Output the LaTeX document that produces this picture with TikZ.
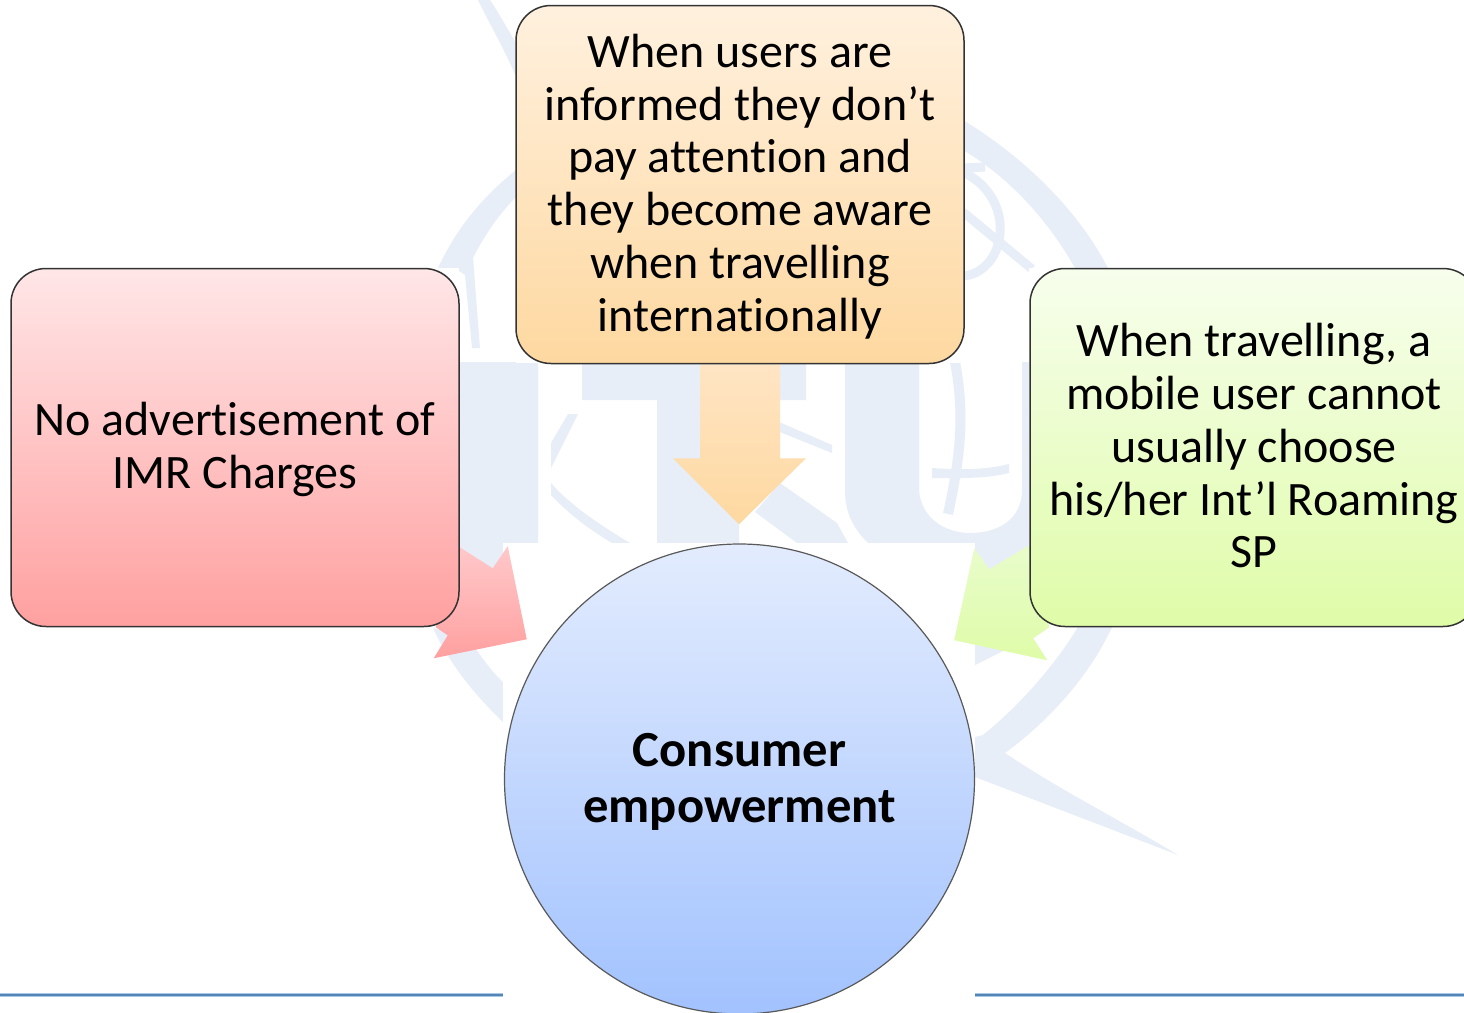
\documentclass[tikz,border=0pt]{standalone}
\usepackage{fontspec}
\setmainfont[Ligatures=CommonOff]{Carlito}
\definecolor{wm}{HTML}{E8EEF8}
\definecolor{rulecol}{HTML}{5585B5}
\definecolor{rulehalo}{HTML}{A8C8E8}
\newcommand\firststrut{\rule{0pt}{19.8pt}}
\newcommand\laststrut{\rule[-5pt]{0pt}{5pt}}
\newcommand\hubfirst{\rule{0pt}{20.5pt}}
\pgfdeclarelayer{wmlayer}
\pgfdeclarelayer{patchlayer}
\pgfdeclarelayer{arrowlayer}
\pgfsetlayers{wmlayer,patchlayer,arrowlayer,main}
\tikzset{
  wmfill/.style={fill=wm,draw=none},
  wmline/.style={draw=wm,line width=4.5pt},
  patchfill/.style={fill=white,draw=none},
  card/.style={draw=black!80,line width=.75pt,rounded corners=17.5pt,inner sep=0pt,
    minimum width=224pt,minimum height=179pt,align=center,
    font=\fontsize{24pt}{26.35pt}\selectfont},
  hub/.style={circle,draw=black!65,line width=.6pt,inner sep=0pt,minimum size=235pt,
    top color=hubtop,bottom color=hubbot,align=center,
    font=\fontsize{25.3pt}{27.6pt}\selectfont\bfseries},
  pinkarrow/.style={top color=pinktop,bottom color=pinkbot,draw=none},
  orangearrow/.style={top color=orangetop,bottom color=orangebot,draw=none},
  greenarrow/.style={top color=greentop,bottom color=greenbot,draw=none}
}
\definecolor{hubtop}{HTML}{E3ECFE}
\definecolor{hubbot}{HTML}{A2C2FE}
\definecolor{pinktop}{HTML}{FFC8CA}
\definecolor{pinkbot}{HTML}{FFA0A0}
\definecolor{orangetop}{HTML}{FFE5C4}
\definecolor{orangebot}{HTML}{FED8A0}
\definecolor{greentop}{HTML}{E8FCCB}
\definecolor{greenbot}{HTML}{DFFCA8}
\begin{document}
\begin{tikzpicture}[x=0.5pt,y=-0.5pt]
\useasboundingbox (0,0) rectangle (1464,1013);
\clip (0,0) rectangle (1464,1013);

\begin{pgfonlayer}{wmlayer}
  \fill[white] (0,0) rectangle (1464,1013);
  % I
  \fill[wmfill] (459,362) -- (538,362) -- (538,543) -- (503,543) -- (503,578) -- (459,578) -- cycle;
  % T
  \fill[wmfill] (582,362) -- (806,362) -- (806,400) -- (739,400) -- (739,543) -- (657,543) -- (657,400) -- (582,400) -- cycle;
  % U
  \fill[wmfill] (845,362) -- (919,362) -- (919,490) .. controls (921,518) and (945,533) .. (970,533)
     .. controls (1000,533) and (1022,518) .. (1022,490) -- (1022,362) -- (1030,362) -- (1030,580)
     -- (975,580) -- (975,543) -- (868,543) .. controls (855,530) and (845,515) .. (845,490) -- cycle;
  % bands through the letters
  \fill[wmfill] (780,483) -- (837,523) -- (848,543) -- (797,543) -- (755,512) -- cycle;
  \fill[wmfill] (770,418) -- (832,445) -- (832,453) -- (770,428) -- cycle;
  \fill[wmfill] (568,414) -- (578,414) -- (551,468) -- (551,443) -- cycle;
  \fill[wmfill] (551,483) -- (551,495) .. controls (570,515) and (590,530) .. (612,543) -- (630,543)
     .. controls (600,525) and (570,505) .. (551,483) -- cycle;
  \fill[wmfill] (932,468) .. controls (960,470) and (985,470) .. (1009,464) -- (1009,473)
     .. controls (985,479) and (960,478) .. (932,478) -- cycle;
  \draw[wmline,line width=5pt] (955,362) .. controls (964,410) and (962,450) .. (948,514);
  % top stripe
  \fill[wmfill] (478,0) -- (490,0) .. controls (500,15) and (508,30) .. (516,43) -- (516,77)
     .. controls (505,50) and (490,25) .. (478,0) -- cycle;
  % upper left arc and its stem
  \fill[wmfill] (438,268) .. controls (458,225) and (485,195) .. (516,170) -- (516,197)
     .. controls (498,215) and (483,238) .. (473,258) -- (480,348) -- (472,348) -- (465,275) -- (455,268) -- cycle;
  % upper right arc
  \fill[wmfill] (963,120) .. controls (1020,155) and (1075,205) .. (1108,268) -- (1075,268)
     .. controls (1045,215) and (1005,175) .. (963,150) -- cycle;
  \draw[wmline] (963,168) -- (985,167);
  \draw[wmline] (963,172) .. controls (990,185) and (1002,210) .. (1000,233)
     .. controls (998,260) and (980,275) .. (963,276);
  \draw[wmline] (963,212) -- (1032,269);
  % lower right arc with spike
  \fill[wmfill] (1078,627) .. controls (1055,665) and (1020,705) .. (983,735) -- (975,737) -- (975,777)
     -- (1178,855) .. controls (1120,820) and (1060,790) .. (1005,753)
     .. controls (1050,720) and (1090,675) .. (1112,627) -- cycle;
  \fill[wmfill] (975,640) -- (1005,650) -- (975,665) -- cycle;
  % lower left arc
  \fill[wmfill] (433,628) .. controls (450,665) and (475,695) .. (503,722) -- (503,682)
     .. controls (490,670) and (480,655) .. (470,640) -- cycle;
  % footer rule
  \draw[rulehalo,line width=2pt] (0,995) -- (503,995);
  \draw[rulehalo,line width=2pt] (975,995) -- (1464,995);
  \draw[rulecol,line width=1pt] (0,995) -- (503,995);
  \draw[rulecol,line width=1pt] (975,995) -- (1464,995);
\end{pgfonlayer}

\begin{pgfonlayer}{patchlayer}
  \fill[patchfill] (0,268) rectangle (459,627);
  \fill[patchfill] (516,5) rectangle (964,363);
  \fill[patchfill] (1029,268) rectangle (1464,627);
  \fill[patchfill] (503,543) rectangle (975,1013);
\end{pgfonlayer}

\node[card,top color=orangetop!55!white,bottom color=orangebot] (informed) at (740,184.5)
  {\firststrut When users are\\informed they don’t\\pay attention and\\they become aware\\when travelling\\internationally\laststrut};
\node[card,top color=pinktop!45!white,bottom color=pinkbot] (advert) at (235,447.5)
  {\firststrut No advertisement of\\IMR Charges\laststrut};
\node[card,top color=greentop!35!white,bottom color=greenbot] (travel) at (1254,447.5)
  {\firststrut When travelling, a\\mobile user cannot\\usually choose\\his/her Int’l Roaming\\SP\laststrut};
\node[hub] (hub) at (739.5,779) {\hubfirst Consumer\\empowerment\laststrut};

\begin{pgfonlayer}{arrowlayer}
  % arrow offsets measured from the source boxes
  \shade[orangearrow] (informed.south) +(-40,0) -- +(-40,94) -- +(-67,94) -- +(-1,160) -- +(66,94) -- +(40,94) -- +(40,0) -- cycle;
  \shade[pinkarrow] (advert.south east) +(0,-80) -- +(33,-59) -- +(48,-81) -- +(67,12) -- +(-26,31) -- +(-12,8) -- +(-24,0) -- cycle;
  \shade[greenarrow] (travel.south west) +(0,-82) -- +(-40,-58) -- +(-55,-79) -- +(-75,13) -- +(18,33) -- +(4,11) -- +(20,0) -- cycle;
\end{pgfonlayer}
\end{tikzpicture}
\end{document}
